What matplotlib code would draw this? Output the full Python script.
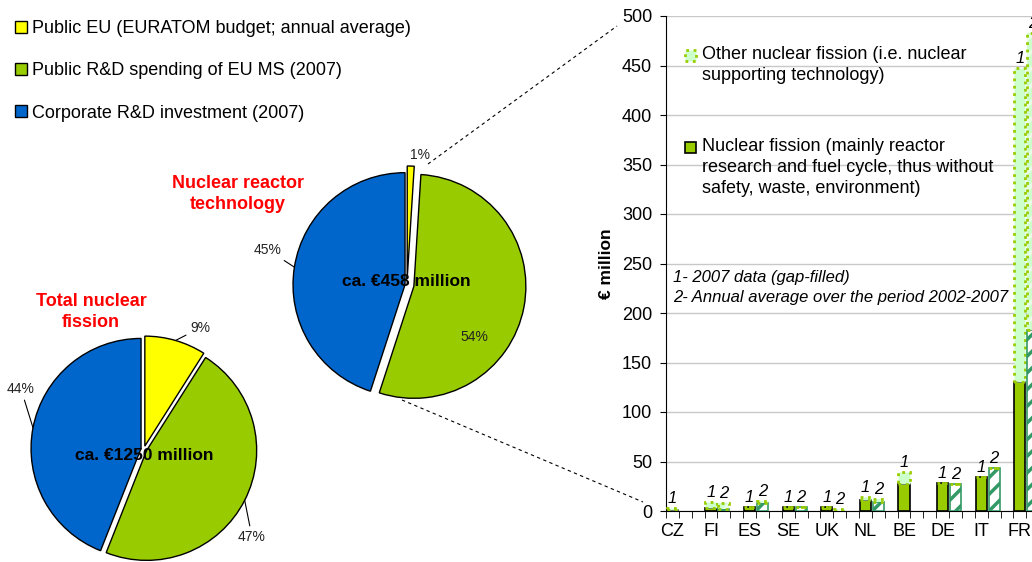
import matplotlib.pyplot as plt
import numpy as np
from matplotlib.patches import Patch, Rectangle

plt.rcParams['font.family'] = ['Liberation Sans', 'DejaVu Sans']
plt.rcParams['hatch.linewidth'] = 2.5

# pie data
source_names = ['Public EU (EURATOM budget; annual average)',
                'Public R&D spending of EU MS (2007)',
                'Corporate R&D investment (2007)']
total_share = [9, 47, 44]
reactor_share = [1, 54, 45]
pie_colors = ['#FFFF00', '#99CC00', '#0066CC']

# bar data (EUR million)
countries = ['CZ', 'FI', 'ES', 'SE', 'UK', 'NL', 'BE', 'DE', 'IT', 'FR']
fission_2007 = [1.5, 3, 4, 4.5, 4.5, 11, 27, 28, 34, 130]
other_2007 = [2, 6, 0, 0, 0, 3, 12, 0, 0, 317]
fission_avg = [None, 2, 8, 4.5, 0, 9, None, 27, 43, 183]
other_avg = [None, 6, 2, 0, 2, 3, None, 0, 0, 300]

GREEN = '#99CC00'
LIGHT = '#CCFFCC'
TEAL = '#339966'

fig = plt.figure(figsize=(10.32, 5.62), dpi=100)

# overlay axes in pixel units for the pies and connector lines
ax0 = fig.add_axes([0, 0, 1, 1])
wp = dict(edgecolor='black', linewidth=1)
w1, _ = ax0.pie(total_share, colors=pie_colors, startangle=90, counterclock=False,
                center=(144, 113), radius=110, explode=[3, 3, 3], wedgeprops=wp)
w2, _ = ax0.pie(reactor_share, colors=pie_colors, startangle=90, counterclock=False,
                center=(407, 277), radius=112, explode=[7, 7, 2], wedgeprops=wp)
ax0.set_xlim(0, 1032)
ax0.set_ylim(0, 562)
ax0.axis('off')


def pct_labels(wedges, shares, center, offsets, leaders):
    for w, s, (dx, dy), lead in zip(wedges, shares, offsets, leaders):
        tm = np.deg2rad((w.theta1 + w.theta2) / 2)
        edge = (w.center[0] + w.r * np.cos(tm), w.center[1] + w.r * np.sin(tm))
        pos = (center[0] + dx, center[1] + dy)
        if lead:
            ax0.annotate(f'{s}%', xy=edge, xytext=pos, ha='center', va='center',
                         fontsize=10, color='#222222',
                         arrowprops=dict(arrowstyle='-', lw=0.8, color='black',
                                         shrinkA=1, shrinkB=0))
        else:
            ax0.text(*pos, f'{s}%', ha='center', va='center', fontsize=10, color='#222222')


pct_labels(w1, total_share, (144, 113), [(56, 121), (108, -88), (-123, 60)], [True, True, True])
pct_labels(w2, reactor_share, (407, 277), [(13, 130), (67, -52), (-139, 35)], [False, False, True])

ax0.text(144, 106, 'ca. €1250 million', ha='center', va='center', fontsize=12.5, fontweight='bold')
ax0.text(406, 280, 'ca. €458 million', ha='center', va='center', fontsize=12.5, fontweight='bold')
ax0.text(91, 250, 'Total nuclear\nfission', ha='center', va='center', fontsize=13,
         fontweight='bold', color='red', linespacing=1.35)
ax0.text(238, 368, 'Nuclear reactor\ntechnology', ha='center', va='center', fontsize=13,
         fontweight='bold', color='red', linespacing=1.35)

# dashed zoom lines to the bar chart
ax0.plot([428, 617], [398, 536], ls=(0, (3, 3)), color='black', lw=0.8)
ax0.plot([402, 643], [162, 60], ls=(0, (3, 3)), color='black', lw=0.8)

leg_handles = [Patch(facecolor=c, edgecolor='black', lw=1) for c in pie_colors]
fig.legend(leg_handles, source_names, loc='upper left', bbox_to_anchor=(0.008, 0.977),
           frameon=False, fontsize=13, handlelength=0.65, handleheight=0.65,
           handletextpad=0.25, labelspacing=1.4, borderaxespad=0)

# bar chart, right part runs past the figure edge like the original
ax = fig.add_axes([666 / 1032, 51 / 562, 386 / 1032, 495 / 562])
x = np.arange(len(countries))
p1 = x + 1 / 6
p2 = x + 0.5
bw = 0.29

ax.bar(p1, fission_2007, width=bw, color=GREEN, edgecolor='black', lw=1.2, zorder=3)
ax.bar(p1, other_2007, bottom=fission_2007, width=bw, color=LIGHT, edgecolor=GREEN,
       linestyle=':', lw=2, zorder=3)

idx = [i for i, v in enumerate(fission_avg) if v is not None]
fa = np.array([fission_avg[i] for i in idx])
oa = np.array([other_avg[i] for i in idx])
pa = p2[idx]
ax.bar(pa, fa, width=bw, color='white', edgecolor=TEAL, hatch='//', lw=1.2, zorder=3)
ax.bar(pa, oa, bottom=fa, width=bw, color=LIGHT, edgecolor='#E6FFE6', hatch='//', lw=0, zorder=3)
ax.bar(pa, oa, bottom=fa, width=bw, fill=False, edgecolor=GREEN, linestyle=':', lw=2, zorder=3)

for xi, a, b in zip(p1, fission_2007, other_2007):
    ax.text(xi, a + b + 2, '1', ha='center', va='bottom', fontsize=12, style='italic')
for xi, a, b in zip(pa, fa, oa):
    ax.text(xi, a + b + 2, '2', ha='center', va='bottom', fontsize=12, style='italic')

ax.set_xlim(0, 10)
ax.set_ylim(0, 500)
ax.set_yticks(np.arange(0, 501, 50))
ax.yaxis.grid(True, color='#C8C8C8', lw=1)
ax.set_axisbelow(True)
ax.set_xticks(p1)
ax.set_xticklabels(countries)
ax.set_xticks(np.arange(0, 10.01, 1 / 3), minor=True)
ax.tick_params(axis='x', which='major', length=0, labelsize=13, pad=9)
ax.tick_params(axis='x', which='minor', length=5, direction='out')
ax.tick_params(axis='y', length=4, labelsize=13, pad=6)
for s in ['top', 'right']:
    ax.spines[s].set_visible(False)
ax.set_ylabel('€ million', fontsize=12.5, fontweight='bold', labelpad=6)

ax.text(0.18, 236, '1- 2007 data (gap-filled)', style='italic', fontsize=12, va='center')
ax.text(0.18, 216, '2- Annual average over the period 2002-2007', style='italic',
        fontsize=12, va='center')

# legend drawn by hand so each square sits on the first text line
bar_handles = [dict(facecolor=LIGHT, edgecolor=GREEN, linestyle=':', lw=2),
               dict(facecolor=GREEN, edgecolor='black', lw=1.2)]
bar_labels = ['Other nuclear fission (i.e. nuclear\nsupporting technology)',
              'Nuclear fission (mainly reactor\nresearch and fuel cycle, thus without\nsafety, waste, environment)']
for props, lab, ytop in zip(bar_handles, bar_labels, [0.940, 0.754]):
    ax.add_patch(Rectangle((0.05, ytop - 0.031), 11 / 386, 11 / 495, transform=ax.transAxes,
                           clip_on=False, zorder=4, **props))
    ax.text(0.093, ytop, lab, transform=ax.transAxes, fontsize=13, va='top', ha='left',
            linespacing=1.3)

fig.savefig('out.png', dpi=100)
